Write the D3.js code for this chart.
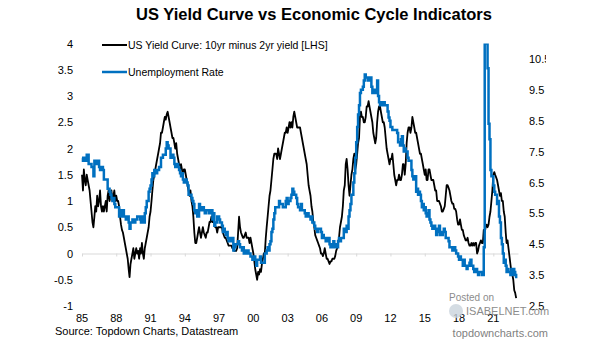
<!DOCTYPE html>
<html>
<head>
<meta charset="utf-8">
<script src="https://cdnjs.cloudflare.com/ajax/libs/d3/7.8.5/d3.min.js"></script>
<style>
body{margin:0;background:#fff;}
text{font-family:"Liberation Sans",Arial,sans-serif;}
</style>
</head>
<body>
<div id="chart"></div>
<script>
// monthly values, Jan 1985 .. Jan 2023
var startYear = 1985;

var spread = [
  1.5, 1.2, 1.6, 1.4, 1.3, 1.5, 1.4, 1.3, 1.2, 1.0, 0.8, 0.6,     // 1985
  0.5, 0.7, 0.9, 0.8, 1.1, 0.9, 1.0, 1.2, 0.9, 0.8, 0.9, 0.8,     // 1986
  0.9, 1.0, 0.8, 1.1, 1.2, 1.0, 1.1, 1.2, 1.0, 1.1, 1.2, 1.0,     // 1987
  1.1, 1.0, 1.0, 0.9, 0.7, 0.55, 0.45, 0.4, 0.3, 0.2, 0.1, 0.0,   // 1988
  -0.1, -0.3, -0.45, -0.2, -0.1, 0.0, 0.1, -0.1, 0.0, 0.1, 0.0, 0.05, // 1989
  -0.1, 0.1, 0.0, 0.2, 0.0, -0.1, 0.1, 0.2, 0.3, 0.4, 0.5, 0.7,   // 1990
  0.8, 1.0, 1.2, 1.4, 1.5, 1.6, 1.7, 1.8, 1.9, 2.0, 2.1, 2.3,     // 1991
  2.3, 2.4, 2.5, 2.6, 2.55, 2.65, 2.7, 2.6, 2.5, 2.4, 2.3, 2.2,   // 1992
  2.2, 2.1, 2.0, 2.1, 1.9, 1.8, 1.7, 1.6, 1.7, 1.6, 1.5, 1.6,     // 1993
  1.6, 1.5, 1.4, 1.3, 1.2, 1.1, 1.2, 1.0, 0.9, 0.7, 0.4, 0.2,     // 1994
  0.2, 0.3, 0.4, 0.5, 0.4, 0.3, 0.4, 0.5, 0.4, 0.35, 0.3, 0.4,    // 1995
  0.4, 0.5, 0.6, 0.6, 0.7, 0.6, 0.6, 0.6, 0.5, 0.5, 0.4, 0.5,     // 1996
  0.5, 0.5, 0.5, 0.5, 0.4, 0.35, 0.3, 0.3, 0.25, 0.2, 0.15, 0.15, // 1997
  0.15, 0.15, 0.1, 0.1, 0.05, 0.05, 0.05, 0.1, 0.4, 0.7, 0.5, 0.4, // 1998
  0.35, 0.3, 0.3, 0.35, 0.4, 0.3, 0.3, 0.3, 0.2, 0.3, 0.2, 0.1,   // 1999
  0.0, -0.15, -0.3, -0.4, -0.5, -0.35, -0.4, -0.3, -0.35, -0.2, -0.1, 0.0, // 2000
  0.0, 0.3, 0.5, 0.7, 0.9, 1.1, 1.2, 1.4, 1.6, 1.8, 1.9, 1.9,     // 2001
  1.9, 1.8, 2.0, 1.9, 1.8, 1.9, 2.0, 2.1, 2.2, 2.3, 2.3, 2.4,     // 2002
  2.3, 2.4, 2.5, 2.4, 2.5, 2.4, 2.6, 2.7, 2.6, 2.5, 2.4, 2.4,     // 2003
  2.4, 2.4, 2.3, 2.2, 2.1, 2.0, 1.9, 1.8, 1.7, 1.5, 1.3, 1.2,     // 2004
  1.1, 0.9, 0.8, 0.6, 0.5, 0.35, 0.3, 0.25, 0.2, 0.15, 0.1, 0.0,  // 2005
  0.0, -0.05, 0.0, 0.1, 0.0, -0.1, -0.1, -0.15, -0.2, -0.15, -0.15, -0.1, // 2006
  -0.1, -0.1, -0.05, 0.05, 0.1, 0.2, 0.3, 0.5, 0.6, 0.7, 0.9, 1.2, // 2007
  1.3, 1.7, 1.8, 1.6, 1.3, 1.1, 1.3, 1.5, 1.6, 1.8, 1.9, 1.6,     // 2008
  1.7, 1.9, 2.1, 2.2, 2.6, 2.7, 2.6, 2.6, 2.5, 2.5, 2.6, 2.8,     // 2009
  2.8, 2.9, 2.8, 2.7, 2.6, 2.5, 2.3, 2.2, 2.1, 2.2, 2.5, 2.7,     // 2010
  2.8, 2.8, 2.7, 2.6, 2.5, 2.5, 2.4, 2.2, 2.0, 1.9, 1.8, 1.7,     // 2011
  1.8, 1.8, 1.9, 1.7, 1.5, 1.4, 1.3, 1.4, 1.4, 1.5, 1.4, 1.4,     // 2012
  1.5, 1.7, 1.7, 1.5, 1.7, 2.1, 2.3, 2.4, 2.4, 2.3, 2.4, 2.6,     // 2013
  2.5, 2.4, 2.3, 2.3, 2.2, 2.1, 2.0, 1.9, 1.9, 1.8, 1.7, 1.6,     // 2014
  1.5, 1.6, 1.4, 1.4, 1.6, 1.6, 1.5, 1.4, 1.4, 1.4, 1.3, 1.2,     // 2015
  1.2, 1.0, 1.0, 1.0, 0.95, 0.9, 0.8, 0.8, 0.85, 0.9, 1.1, 1.3,   // 2016
  1.3, 1.25, 1.2, 1.1, 1.0, 0.95, 0.95, 0.85, 0.85, 0.8, 0.65, 0.55, // 2017
  0.55, 0.65, 0.55, 0.45, 0.45, 0.35, 0.3, 0.25, 0.25, 0.3, 0.2, 0.15, // 2018
  0.15, 0.2, 0.15, 0.2, 0.15, 0.2, 0.2, 0.0, 0.05, 0.15, 0.2, 0.25, // 2019
  0.2, 0.2, 0.45, 0.4, 0.5, 0.55, 0.5, 0.55, 0.7, 0.8, 1.0, 1.2,  // 2020
  1.5, 1.55, 1.5, 1.45, 1.4, 1.3, 1.2, 1.1, 1.15, 1.0, 1.0, 0.8,  // 2021
  0.7, 0.4, 0.2, 0.25, 0.1, -0.05, -0.2, -0.35, -0.4, -0.5, -0.7, -0.75, // 2022
  -0.85                                                            // 2023
];

var unemployment = [
  7.3, 7.2, 7.2, 7.3, 7.2, 7.4, 7.4, 7.1, 7.1, 7.1, 7.0, 7.0,     // 1985
  6.7, 7.2, 7.2, 7.1, 7.2, 7.2, 7.0, 6.9, 7.0, 7.0, 6.9, 6.6,     // 1986
  6.6, 6.6, 6.6, 6.3, 6.3, 6.2, 6.1, 6.0, 5.9, 6.0, 5.8, 5.7,     // 1987
  5.7, 5.7, 5.7, 5.4, 5.6, 5.4, 5.4, 5.6, 5.4, 5.4, 5.3, 5.3,     // 1988
  5.4, 5.2, 5.0, 5.2, 5.2, 5.3, 5.2, 5.2, 5.3, 5.3, 5.4, 5.4,     // 1989
  5.4, 5.3, 5.2, 5.4, 5.4, 5.2, 5.5, 5.7, 5.9, 5.9, 6.2, 6.3,     // 1990
  6.4, 6.6, 6.8, 6.7, 6.9, 6.9, 6.8, 6.9, 6.9, 7.0, 7.0, 7.3,     // 1991
  7.3, 7.4, 7.4, 7.4, 7.6, 7.8, 7.7, 7.6, 7.6, 7.3, 7.4, 7.4,     // 1992
  7.3, 7.1, 7.0, 7.1, 7.1, 7.0, 6.9, 6.8, 6.7, 6.8, 6.6, 6.5,     // 1993
  6.6, 6.6, 6.5, 6.4, 6.1, 6.1, 6.1, 6.0, 5.9, 5.8, 5.6, 5.5,     // 1994
  5.6, 5.4, 5.4, 5.8, 5.6, 5.6, 5.7, 5.7, 5.6, 5.5, 5.6, 5.6,     // 1995
  5.6, 5.5, 5.5, 5.6, 5.6, 5.3, 5.5, 5.1, 5.2, 5.2, 5.4, 5.4,     // 1996
  5.3, 5.2, 5.2, 5.1, 4.9, 5.0, 4.9, 4.8, 4.9, 4.7, 4.6, 4.7,     // 1997
  4.6, 4.6, 4.7, 4.3, 4.4, 4.5, 4.5, 4.5, 4.6, 4.5, 4.4, 4.4,     // 1998
  4.3, 4.4, 4.2, 4.3, 4.2, 4.3, 4.3, 4.2, 4.2, 4.1, 4.1, 4.0,     // 1999
  4.0, 4.1, 4.0, 3.8, 4.0, 4.0, 4.0, 4.1, 3.9, 3.9, 3.9, 3.9,     // 2000
  4.2, 4.2, 4.3, 4.4, 4.3, 4.5, 4.6, 4.9, 5.0, 5.3, 5.5, 5.7,     // 2001
  5.7, 5.7, 5.7, 5.9, 5.8, 5.8, 5.8, 5.7, 5.7, 5.7, 5.9, 6.0,     // 2002
  5.8, 5.9, 5.9, 6.0, 6.1, 6.3, 6.2, 6.1, 6.1, 6.0, 5.8, 5.7,     // 2003
  5.7, 5.6, 5.8, 5.6, 5.6, 5.6, 5.5, 5.4, 5.4, 5.5, 5.4, 5.4,     // 2004
  5.3, 5.4, 5.2, 5.2, 5.1, 5.0, 5.0, 4.9, 5.0, 5.0, 5.0, 4.9,     // 2005
  4.7, 4.8, 4.7, 4.7, 4.6, 4.6, 4.7, 4.7, 4.5, 4.4, 4.5, 4.4,     // 2006
  4.6, 4.5, 4.4, 4.5, 4.4, 4.6, 4.7, 4.6, 4.7, 4.7, 4.7, 5.0,     // 2007
  5.0, 4.9, 5.1, 5.0, 5.4, 5.6, 5.8, 6.1, 6.1, 6.5, 6.8, 7.3,     // 2008
  7.8, 8.3, 8.7, 9.0, 9.4, 9.5, 9.5, 9.6, 9.8, 10.0, 9.9, 9.9,    // 2009
  9.8, 9.8, 9.9, 9.9, 9.6, 9.4, 9.4, 9.5, 9.5, 9.4, 9.8, 9.3,     // 2010
  9.1, 9.0, 9.0, 9.1, 9.0, 9.1, 9.0, 9.0, 9.0, 8.8, 8.6, 8.5,     // 2011
  8.3, 8.3, 8.2, 8.2, 8.2, 8.2, 8.2, 8.1, 7.8, 7.8, 7.7, 7.9,     // 2012
  8.0, 7.7, 7.5, 7.6, 7.5, 7.5, 7.3, 7.2, 7.2, 7.2, 6.9, 6.7,     // 2013
  6.6, 6.7, 6.7, 6.2, 6.3, 6.1, 6.2, 6.1, 5.9, 5.7, 5.8, 5.6,     // 2014
  5.7, 5.5, 5.4, 5.4, 5.6, 5.3, 5.2, 5.1, 5.0, 5.0, 5.1, 5.0,     // 2015
  4.8, 4.9, 5.0, 5.1, 4.8, 4.9, 4.8, 4.9, 5.0, 4.9, 4.7, 4.7,     // 2016
  4.7, 4.6, 4.4, 4.4, 4.4, 4.3, 4.3, 4.4, 4.3, 4.2, 4.2, 4.1,     // 2017
  4.0, 4.1, 4.0, 4.0, 3.8, 4.0, 3.8, 3.8, 3.7, 3.8, 3.8, 3.9,     // 2018
  4.0, 3.8, 3.8, 3.7, 3.6, 3.6, 3.7, 3.6, 3.5, 3.6, 3.6, 3.6,     // 2019
  3.5, 3.5, 4.4, 14.7, 13.2, 11.0, 10.2, 8.4, 7.9, 6.9, 6.7, 6.7, // 2020
  6.4, 6.2, 6.1, 6.1, 5.8, 5.9, 5.4, 5.2, 4.7, 4.5, 4.2, 3.9,     // 2021
  4.0, 3.8, 3.6, 3.7, 3.6, 3.6, 3.5, 3.7, 3.5, 3.7, 3.6, 3.5,     // 2022
  3.4                                                              // 2023
];

var xTickYears = [1985, 1988, 1991, 1994, 1997, 2000, 2003, 2006, 2009, 2012, 2015, 2018, 2021];
var leftTicks = [-1, -0.5, 0, 0.5, 1, 1.5, 2, 2.5, 3, 3.5, 4];
var rightTicks = [2.5, 3.5, 4.5, 5.5, 6.5, 7.5, 8.5, 9.5, 10.5];
var legendLabels = ["US Yield Curve: 10yr minus 2yr yield [LHS]", "Unemployment Rate"];
var seriesColors = ["#000000", "#0070C0"];

var w = 605, h = 341;
var plotTop = 43.5, plotBottom = 306;

var svg = d3.select("#chart").append("svg").attr("width", w).attr("height", h);

var monthDate = function(i){ return new Date(startYear, i, 1); };

var xScale = d3.scaleTime().domain([new Date(1985, 0, 1), new Date(2023, 2, 1)]).range([82, 518]);
var yLeft = d3.scaleLinear().domain([-1, 4]).range([plotBottom, plotTop]);
var yRight = d3.scaleLinear().domain([2.5, 11]).range([plotBottom, plotTop]);

// title
svg.append("text")
    .attr("x", 314).attr("y", 20)
    .attr("text-anchor", "middle")
    .style("font-size", "16.5px").style("font-weight", "bold")
    .text("US Yield Curve vs Economic Cycle Indicators");

// zero axis line with ticks
var xAxis = d3.axisBottom(xScale)
    .tickValues(xTickYears.map(function(y){ return new Date(y, 0, 1); }))
    .tickSize(3).tickSizeOuter(0).tickFormat("");
var axisG = svg.append("g").attr("transform", "translate(0," + yLeft(0) + ")").call(xAxis);
axisG.selectAll("path,line").attr("stroke", "#d9d9d9");

// x labels along the bottom
svg.append("g").selectAll("text")
    .data(xTickYears)
    .enter()
    .append("text")
    .attr("x", function(d){ return xScale(new Date(d, 0, 1)); })
    .attr("y", 322)
    .attr("text-anchor", "middle")
    .style("font-size", "11px")
    .text(function(d){ return String(d).slice(2); });

// left axis
var leftAxis = d3.axisLeft(yLeft).tickValues(leftTicks).tickSize(0).tickPadding(0)
    .tickFormat(function(d){ return String(d); });
var leftG = svg.append("g").attr("transform", "translate(73,0)").call(leftAxis);
leftG.select(".domain").remove();
leftG.selectAll("text").style("font-size", "11px").style("font-family", "'Liberation Sans',Arial,sans-serif").attr("fill", "#000");

// right axis (labels clipped at the picture edge)
svg.append("clipPath").attr("id", "rclip").append("rect")
    .attr("x", 0).attr("y", 0).attr("width", 546).attr("height", h);
var rightAxis = d3.axisRight(yRight).tickValues(rightTicks).tickSize(0).tickPadding(0)
    .tickFormat(function(d){ return String(d); });
var rightG = svg.append("g").attr("clip-path", "url(#rclip)")
    .append("g").attr("transform", "translate(529,0)").call(rightAxis);
rightG.select(".domain").remove();
rightG.selectAll("text").style("font-size", "11px").style("font-family", "'Liberation Sans',Arial,sans-serif").attr("fill", "#000");

// plot clip
svg.append("clipPath").attr("id", "pclip").append("rect")
    .attr("x", 0).attr("y", plotTop).attr("width", w).attr("height", plotBottom - plotTop);

var plotG = svg.append("g").attr("clip-path", "url(#pclip)");

var spreadLine = d3.line()
    .x(function(d, i){ return xScale(monthDate(i)); })
    .y(function(d){ return yLeft(d); });

var unempLine = d3.line()
    .curve(d3.curveStepAfter)
    .x(function(d, i){ return xScale(monthDate(i)); })
    .y(function(d){ return yRight(d); });

plotG.append("path")
    .datum(spread)
    .attr("d", spreadLine)
    .attr("fill", "none")
    .attr("stroke", seriesColors[0])
    .attr("stroke-width", 1.8)
    .attr("stroke-linejoin", "round");

plotG.append("path")
    .datum(unemployment)
    .attr("d", unempLine)
    .attr("fill", "none")
    .attr("stroke", seriesColors[1])
    .attr("stroke-width", 2.5);

// legend
var legendY = [45, 72];
var legend = svg.append("g").selectAll("g")
    .data(legendLabels)
    .enter()
    .append("g")
    .attr("transform", function(d, i){ return "translate(0," + legendY[i] + ")"; });
legend.append("line")
    .attr("x1", 102).attr("x2", 127).attr("y1", 0).attr("y2", 0)
    .attr("stroke", function(d, i){ return seriesColors[i]; })
    .attr("stroke-width", function(d, i){ return i == 0 ? 2 : 2.5; });
legend.append("text")
    .attr("x", 128).attr("y", 4)
    .style("font-size", "10.5px")
    .text(function(d){ return d; });

// source + watermark
svg.append("text").attr("x", 55).attr("y", 335).style("font-size", "11px")
    .text("Source: Topdown Charts, Datastream");
svg.append("text").attr("x", 548).attr("y", 337).attr("text-anchor", "end")
    .style("font-size", "11px").attr("fill", "#7f7f7f")
    .text("topdowncharts.com");
svg.append("text").attr("x", 449).attr("y", 301)
    .style("font-size", "10px").attr("fill", "#8c8c8c")
    .text("Posted on");
svg.append("circle").attr("cx", 456).attr("cy", 311).attr("r", 7)
    .attr("fill", "#c9d3dc").attr("opacity", 0.8);
svg.append("text").attr("x", 466).attr("y", 315)
    .style("font-size", "11px").attr("fill", "#8c8c8c")
    .text("ISABELNET.com");
</script>
</body>
</html>
